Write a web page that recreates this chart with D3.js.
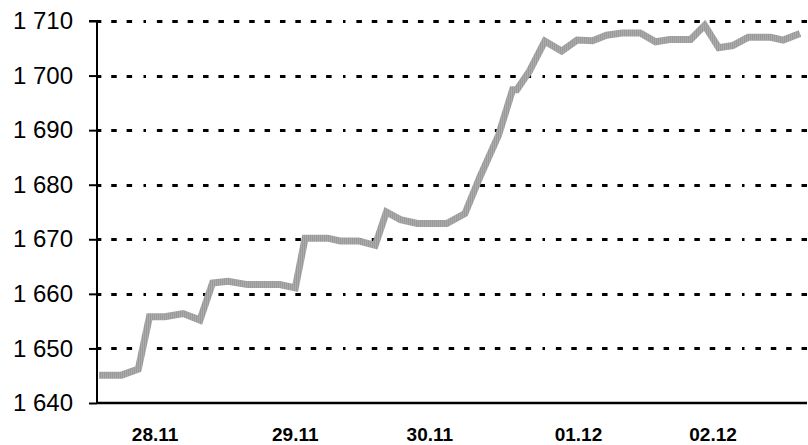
<!DOCTYPE html>
<html><head><meta charset="utf-8">
<script src="https://cdn.jsdelivr.net/npm/d3@7"></script>
<style>html,body{margin:0;padding:0;background:#fff;}svg{display:block;}</style>
</head><body>
<script>
// time (trading hours from start) and index values
const times = [0,1.6,2.8,3.6,4.7,6.0,7.2,8.1,9.2,10.6,11.8,12.9,14.0,14.7,16.3,17.2,18.5,19.7,20.5,21.5,22.7,24.8,26.1,27.2,28.5,29.5,29.8,30.7,31.8,33.0,34.1,35.2,36.2,37.3,38.6,39.7,40.7,42.2,43.2,44.2,45.2,46.3,47.9,48.8,50.0];
const values = [1645.1,1645.1,1646.2,1655.8,1655.8,1656.4,1655.2,1662.0,1662.3,1661.7,1661.7,1661.7,1661.1,1670.2,1670.2,1669.7,1669.7,1668.9,1675.0,1673.6,1672.9,1672.9,1674.7,1681.6,1689.1,1697.4,1697.4,1700.8,1706.3,1704.5,1706.5,1706.4,1707.4,1707.8,1707.8,1706.2,1706.6,1706.6,1709.2,1705.1,1705.5,1707.0,1707.0,1706.5,1707.7];
const dayLabels = ["28.11","29.11","30.11","01.12","02.12"];
const dayLabelTimes = [4.0,14.0,23.6,34.2,43.8];
const yTicks = [1640,1650,1660,1670,1680,1690,1700,1710];

const W=808,H=445;
const svg=d3.select("body").append("svg").attr("width",W).attr("height",H);
const x=d3.scaleLinear().domain([0,50]).range([99,800]);
const y=d3.scaleLinear().domain([1640,1710]).range([403,21]);
const axisX0=97, axisX1=807;

// texture pattern for line
const defs=svg.append("defs");
const pat=defs.append("pattern").attr("id","hatch").attr("patternUnits","userSpaceOnUse").attr("width",2).attr("height",4);
pat.append("rect").attr("x",0).attr("y",0).attr("width",1).attr("height",4).attr("fill","#999999");
pat.append("rect").attr("x",1).attr("y",0).attr("width",1).attr("height",4).attr("fill","#ababab");

// gridline dash pattern: 12 dashes then a dot, period 200px
const p=200/13;
const dash=[];
for(let i=0;i<11;i++){dash.push(5.5,p-5.5);}
dash.push(5.5,p-5.5+1.5,2.5,1.5+p-5.5-0.5);
svg.append("g").selectAll("line").data(yTicks.filter(d=>d>1640)).join("line")
  .attr("x1",axisX0).attr("x2",axisX1)
  .attr("y1",d=>Math.round(y(d))+0.5).attr("y2",d=>Math.round(y(d))+0.5)
  .attr("stroke","#000").attr("stroke-width",3)
  .attr("stroke-dasharray",dash.join(","))
  .attr("stroke-dashoffset",184.615-45);

// line
const line=d3.line().x((d,i)=>x(times[i])).y(d=>y(d));
svg.append("path").datum(values).attr("d",line)
  .attr("fill","none").attr("stroke","url(#hatch)").attr("stroke-width",7)
  .attr("stroke-linejoin","miter");

// y axis
const yAxis=d3.axisLeft(y).tickValues(yTicks).tickSize(8).tickPadding(16)
  .tickFormat(d=>{const s=String(d);return s.slice(0,1)+" "+s.slice(1);});
const gy=svg.append("g").attr("transform",`translate(${axisX0},0)`).call(yAxis);
gy.select(".domain").attr("stroke","#000").attr("stroke-width",2).attr("d",`M-8,${y(1710)}H0V${y(1640)}`);
gy.selectAll(".tick line").attr("stroke","#000").attr("stroke-width",2);
gy.selectAll(".tick text").attr("font-family","Liberation Sans, Arial, sans-serif").attr("font-size",24).attr("fill","#000");

// x axis line
svg.append("line").attr("x1",axisX0).attr("x2",axisX1).attr("y1",y(1640)).attr("y2",y(1640))
  .attr("stroke","#000").attr("stroke-width",2.5);

// x labels
svg.append("g").selectAll("text").data(dayLabels).join("text")
  .attr("x",(d,i)=>x(dayLabelTimes[i])).attr("y",441)
  .attr("text-anchor","middle")
  .attr("font-family","Liberation Sans, Arial, sans-serif").attr("font-weight","bold").attr("font-size",19)
  .text(d=>d);
</script>
</body></html>
